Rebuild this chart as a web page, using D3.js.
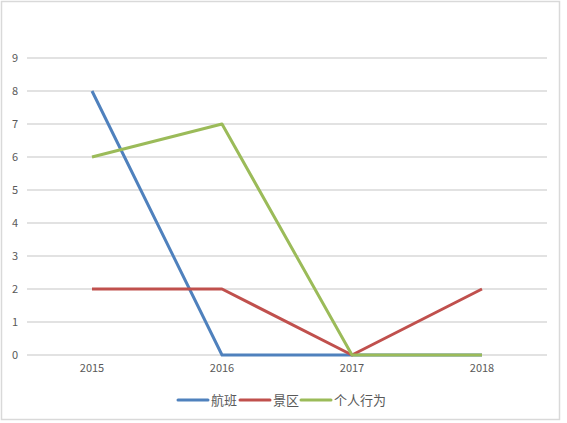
<!DOCTYPE html>
<html><head><meta charset="utf-8">
<script src="https://cdn.jsdelivr.net/npm/d3@7"></script>
<style>body{margin:0;background:#fff}svg{display:block}</style>
</head><body>
<svg id="c" width="567" height="423"></svg>
<script>
const years = ["2015","2016","2017","2018"];
const seriesNames = ["航班","景区","个人行为"];
const flights = [8,0,0,0];
const scenic = [2,2,0,2];
const personal = [6,7,0,0];
const yTicks = [0,1,2,3,4,5,6,7,8,9];
const colors = ["#4F81BD","#C0504D","#9BBB59"];

const series = [flights, scenic, personal];
const svg = d3.select("#c");
const font = "'Microsoft YaHei','Noto Sans CJK SC','DejaVu Sans',sans-serif";

svg.append("rect").attr("x",1.5).attr("y",1.5).attr("width",558).attr("height",418)
  .attr("fill","#fff").attr("stroke","#D9D9D9").attr("stroke-width",1.5);

const x = d3.scaleBand().domain(years).range([27,547]);
const y = d3.scaleLinear().domain([0,9]).range([355,58]);

const grid = svg.append("g");
grid.selectAll("line").data(yTicks).join("line")
  .attr("x1",27).attr("x2",547)
  .attr("y1",d=>y(d)).attr("y2",d=>y(d))
  .attr("stroke","#D9D9D9").attr("stroke-width",1.5);

const yAxis = d3.axisLeft(y).tickValues(yTicks).tickSize(0).tickPadding(0);
const gy = svg.append("g").attr("transform","translate(15,0)").call(yAxis);
gy.select(".domain").remove();
gy.selectAll("text").attr("text-anchor","middle").attr("fill","#595959")
  .style("font-family",font).style("font-size","11px");

const xAxis = d3.axisBottom(x).tickSize(0).tickPadding(0);
const gx = svg.append("g").attr("transform","translate(0,364)").call(xAxis);
gx.select(".domain").remove();
gx.selectAll("text").attr("fill","#595959").style("font-family",font).style("font-size","11px");

const line = d3.line().x((d,i)=>x(years[i])+x.bandwidth()/2).y(d=>y(d));
series.forEach((s,k)=>{
  svg.append("path").datum(s).attr("d",line).attr("fill","none")
    .attr("stroke",colors[k]).attr("stroke-width",3).attr("stroke-linejoin","round");
});

const legX = [178,240,301];
const lg = svg.append("g");
seriesNames.forEach((n,k)=>{
  lg.append("line").attr("x1",legX[k]).attr("x2",legX[k]+30).attr("y1",400).attr("y2",400)
    .attr("stroke",colors[k]).attr("stroke-width",3).attr("stroke-linecap","round");
  lg.append("text").attr("x",legX[k]+33).attr("y",405).text(n)
    .attr("fill","#595959").style("font-family",font).style("font-size","13px");
});
</script>
</body></html>
